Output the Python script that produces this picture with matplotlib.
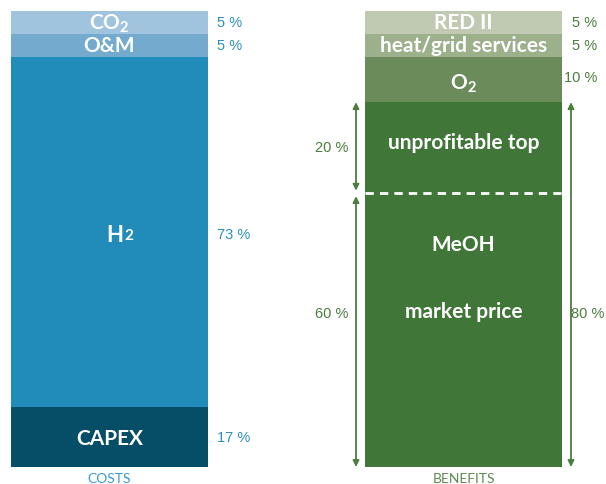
import numpy as np
import matplotlib
matplotlib.use('Agg')
from matplotlib import pyplot as plt

plt.rcParams['font.family'] = ['Lato', 'DejaVu Sans']
plt.rcParams['mathtext.fontset'] = 'custom'
plt.rcParams['mathtext.rm'] = 'Lato:bold'
plt.rcParams['mathtext.bf'] = 'Lato:bold'

# costs side (bottom to top); heights as drawn, labels as printed
cost_names = ['CAPEX', 'H', 'O&M', r'CO$_\mathrm{2}$']
cost_heights = [13.2, 76.8, 5, 5]
cost_labels = ['17 %', '73 %', '5 %', '5 %']
cost_colors = ['#064e68', '#218bba', '#73aace', '#a0c4de']

# benefits side (bottom to top)
ben_names = ['', r'O$_\mathrm{2}$', 'heat/grid services', 'RED II']
ben_heights = [80, 10, 5, 5]
ben_labels = ['80 %', '10 %', '5 %', '5 %']
ben_colors = ['#417639', '#6b8c5a', '#9bb08b', '#c0cab2']
market_price = 60
unprofitable = 20

blue_txt = '#2b8fc0'
green_txt = '#4a7d3e'
pct_font = dict(fontsize=10.5, family='Liberation Sans')

fig = plt.figure(figsize=(6.06, 4.85), dpi=100)
ax = fig.add_axes([0, 1 - 468 / 485, 1, (468 - 12) / 485])
ax.set_xlim(-109.5 / 354, (606 - 109.5) / 354)
ax.set_ylim(0, 100)
ax.axis('off')

w = 197 / 354

# left stacked bar
bottom = 0
for name, h, lab, c in zip(cost_names, cost_heights, cost_labels, cost_colors):
    ax.bar(0, h, width=w, bottom=bottom, color=c, linewidth=0)
    yt = bottom + h / 2
    if name == 'H':
        yt = 51
        ax.text(0.015, yt, 'H', ha='center', va='center', color='white',
                fontsize=16, fontweight='bold')
        ax.annotate('2', xy=(0.015, yt), xytext=(7, -5.5), textcoords='offset points',
                    ha='left', va='bottom', color='white', fontsize=11, fontweight='bold')
    else:
        ax.text(0, yt - (0.3 if name == 'CAPEX' else 0), name, ha='center', va='center',
                color='white', fontsize=15, fontweight='bold')
    ax.text(0.304, yt, lab, ha='left', va='center', color=blue_txt, **pct_font)
    bottom += h

# right stacked bar
bottom = 0
for name, h, lab, c in zip(ben_names, ben_heights, ben_labels, ben_colors):
    ax.bar(1, h, width=w, bottom=bottom, color=c, linewidth=0)
    yt = bottom + h / 2
    if name:
        ax.text(1, yt - (0.8 if 'O$' in name else 0), name, ha='center', va='center',
                color='white', fontsize=15, fontweight='bold')
    if lab != '80 %':
        ax.text(1.377, yt + (0.6 if lab == '10 %' else 0), lab, ha='right', va='center',
                color=green_txt, **pct_font)
    bottom += h

# dashed split inside the main benefits block
ax.plot([1 - w / 2, 1 + w / 2], [market_price, market_price], color='white',
        lw=2, dashes=(3, 2.2))
ax.text(1, 71.3, 'unprofitable top', ha='center', va='center', color='white',
        fontsize=15, fontweight='bold')
ax.text(1, 48.9, 'MeOH', ha='center', va='center', color='white',
        fontsize=15, fontweight='bold')
ax.text(1, 34.2, 'market price', ha='center', va='center', color='white',
        fontsize=15, fontweight='bold')

# arrows
ap = dict(arrowstyle='<|-|>', color=green_txt, lw=1.3, mutation_scale=9,
          shrinkA=0, shrinkB=0)
xl = (356 - 109.5) / 354
xr = (571 - 109.5) / 354
ax.annotate('', xy=(xl, 80), xytext=(xl, market_price + 0.6), arrowprops=ap)
ax.annotate('', xy=(xl, market_price - 0.6), xytext=(xl, 0), arrowprops=ap)
ax.annotate('', xy=(xr, 80), xytext=(xr, 0), arrowprops=ap)
ax.text((348 - 109.5) / 354, 70.2, '20 %', ha='right', va='center',
        color=green_txt, **pct_font)
ax.text((348 - 109.5) / 354, 33.8, '60 %', ha='right', va='center',
        color=green_txt, **pct_font)
ax.text((604 - 109.5) / 354, 33.8, '80 %', ha='right', va='center',
        color=green_txt, **pct_font)

# category captions
ax.text(0, -2.4, 'COSTS', ha='center', va='center', color='#3a9ad0', fontsize=10,
        clip_on=False)
ax.text(1, -2.4, 'BENEFITS', ha='center', va='center', color='#5a8a50', fontsize=10,
        clip_on=False)

fig.savefig('out.png', dpi=100)
